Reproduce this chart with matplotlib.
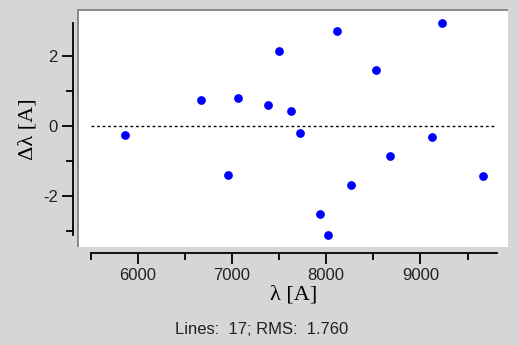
import matplotlib
matplotlib.use("Agg")
import matplotlib.pyplot as plt
from matplotlib.patches import Rectangle

plt.rcParams["axes.unicode_minus"] = False

# Line-fit residuals
wavelength = [5865, 6673, 6960, 7067, 7387, 7504, 7631, 7723, 7939,
              8017, 8117, 8266, 8528, 8673, 9123, 9227, 9666]
residual = [-0.26, 0.74, -1.40, 0.80, 0.60, 2.12, 0.43, -0.21, -2.51,
            -3.11, 2.69, -1.69, 1.60, -0.87, -0.31, 2.93, -1.42]
x_range = [5500, 9810]
summary = "Lines:  17; RMS:  1.760"

bg = "#d6d6d6"
fig = plt.figure(figsize=(5.18, 3.45), dpi=100, facecolor=bg)

# white plotting panel with a sunken border on top/left
fig.patches.append(Rectangle((0.1506, 0.284), 0.830, 0.687,
                             transform=fig.transFigure, facecolor="white",
                             edgecolor="none", zorder=0))
fig.patches.append(Rectangle((0.1483, 0.284), 0.0039, 0.690,
                             transform=fig.transFigure, facecolor="#8c8c8c",
                             edgecolor="none", zorder=0))
fig.patches.append(Rectangle((0.1483, 0.968), 0.832, 0.006,
                             transform=fig.transFigure, facecolor="#8c8c8c",
                             edgecolor="none", zorder=0))

ax = fig.add_axes([0.1751, 0.3188, 0.7838, 0.6145])
ax.set_facecolor("none")
ax.set_zorder(2)

ax.plot(x_range, [0, 0], color="black", lw=1.0, ls=(0, (2, 2)))
ax.plot(wavelength, residual, "o", color="#0000ff", ms=6.3, mec="none",
        clip_on=False)

ax.set_xlim(x_range)
ax.set_ylim(min(residual), max(residual))

for side in ["top", "right"]:
    ax.spines[side].set_visible(False)
for side in ["left", "bottom"]:
    ax.spines[side].set_position(("outward", 12.7))
    ax.spines[side].set_linewidth(1.3)

ax.set_xticks([6000, 7000, 8000, 9000])
ax.set_xticks([5500, 6500, 7500, 8500, 9500], minor=True)
ax.set_yticks([-2, 0, 2])
ax.set_yticks([-3, -1, 1], minor=True)
ax.tick_params(which="major", length=8, width=1.3, color="black",
               labelsize=12, pad=3)
ax.tick_params(which="minor", length=5, width=1.3, color="black")
for lab in ax.get_xticklabels() + ax.get_yticklabels():
    lab.set_family("Liberation Sans")
    lab.set_color("#222222")

ax.set_xlabel("λ [A]", family="Liberation Serif", fontsize=16, labelpad=2)
ax.set_ylabel("Δλ [A]", family="Liberation Serif", fontsize=16, labelpad=4)

fig.text(0.506, 0.045, summary, ha="center", va="center",
         family="Liberation Sans", fontsize=12, color="#222222")

fig.savefig("out.png", dpi=100, facecolor=bg)
